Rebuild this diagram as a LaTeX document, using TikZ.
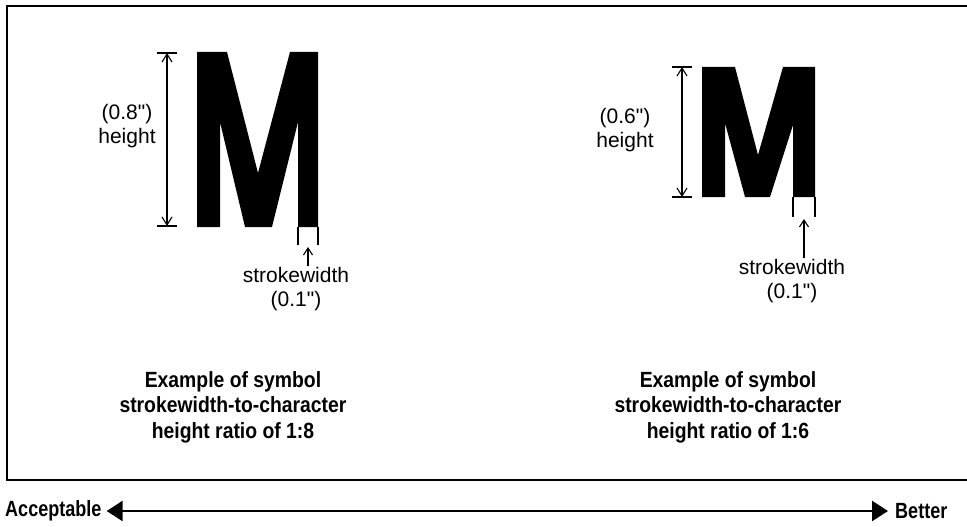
\documentclass[tikz,border=0pt]{standalone}
\usepackage{fontspec}
\setmainfont{Liberation Sans}
\newfontfamily\labelfont{Liberation Sans}
\newfontfamily\capfont{Liberation Sans}[FakeStretch=0.88]
\newfontfamily\scalefont{Liberation Sans}[FakeStretch=0.82]
\usetikzlibrary{arrows.meta}
\tikzset{
  glyph/.style={fill=black, draw=none},
  dimline/.style={line width=1.1pt, {Straight Barb[length=8pt,width=10pt]}-{Straight Barb[length=8pt,width=10pt]}},
  tickline/.style={line width=1.1pt},
  pointer/.style={line width=1.1pt, -{Straight Barb[length=7pt,width=9pt]}},
  lbl/.style={font=\labelfont\fontsize{21}{23.5}\selectfont, align=center, inner sep=0pt},
  caption/.style={font=\capfont\bfseries\fontsize{22}{25.5}\selectfont, align=center, inner sep=0pt},
  scalelbl/.style={font=\scalefont\bfseries\fontsize{22}{24}\selectfont, inner sep=0pt},
  scalearrow/.style={line width=2.6pt, {Triangle[length=16pt,width=20pt]}-{Triangle[length=16pt,width=20pt]}}
}
\begin{document}
\begin{tikzpicture}[x=1pt, y=-1pt]
  \useasboundingbox (0,0) rectangle (967,527);
  % outer frame
  \draw[line width=2pt] (7,6) rectangle (990,480);

  % ---- left example, ratio 1:8 ----
  \fill[glyph] (197,52) -- (227,52) -- (258,173) -- (290,52) -- (318,52)
    -- (318,227) -- (298,227) -- (298,122) -- (272,227) -- (245,227)
    -- (220,122) -- (220,227) -- (197,227) -- cycle;
  \coordinate (lt) at (167,53);
  \coordinate (lb) at (167,226);
  \draw[tickline] (157,53) -- (177,53);
  \draw[tickline] (157,226) -- (177,226);
  \draw[dimline] (lt) -- (lb);
  \node[lbl] (lh) at (127,126) {(0.8")\\height};
  \draw[tickline] (298,227) -- (298,245);
  \draw[tickline] (318,227) -- (318,245);
  \coordinate (ls) at (308,247);
  \node[lbl] (lsw) at (296,289) {strokewidth\\(0.1")};
  \draw[pointer] (lsw.north -| ls) ++(0,-1) -- (ls);
  \node[caption] (lc) at (233,407) {Example of symbol\\strokewidth-to-character\\height ratio of 1:8};

  % ---- right example, ratio 1:6 ----
  \fill[glyph] (702,67) -- (735,67) -- (758,155) -- (783,67) -- (815,67)
    -- (815,197) -- (793,197) -- (793,125) -- (770,197) -- (745,197)
    -- (725,123) -- (725,197) -- (702,197) -- cycle;
  \coordinate (rt) at (682,67);
  \coordinate (rb) at (682,197);
  \draw[tickline] (672,67) -- (692,67);
  \draw[tickline] (672,197) -- (692,197);
  \draw[dimline] (rt) -- (rb);
  \node[lbl] (rh) at (625,130) {(0.6")\\height};
  \draw[tickline] (793,197) -- (793,217);
  \draw[tickline] (815,197) -- (815,217);
  \coordinate (rs) at (804,219);
  \node[lbl] (rsw) at (792,281) {strokewidth\\(0.1")};
  \draw[pointer] (rsw.north -| rs) ++(0,-1) -- (rs);
  \node[caption] (rc) at (728,407) {Example of symbol\\strokewidth-to-character\\height ratio of 1:6};

  % ---- scale from acceptable to better ----
  \node[scalelbl, anchor=west] (acc) at (5,511) {Acceptable};
  \node[scalelbl, anchor=west] (bet) at (895,511) {Better};
  \draw[scalearrow] ([xshift=5pt]acc.east) -- ([xshift=-7pt]bet.west);
\end{tikzpicture}
\end{document}
